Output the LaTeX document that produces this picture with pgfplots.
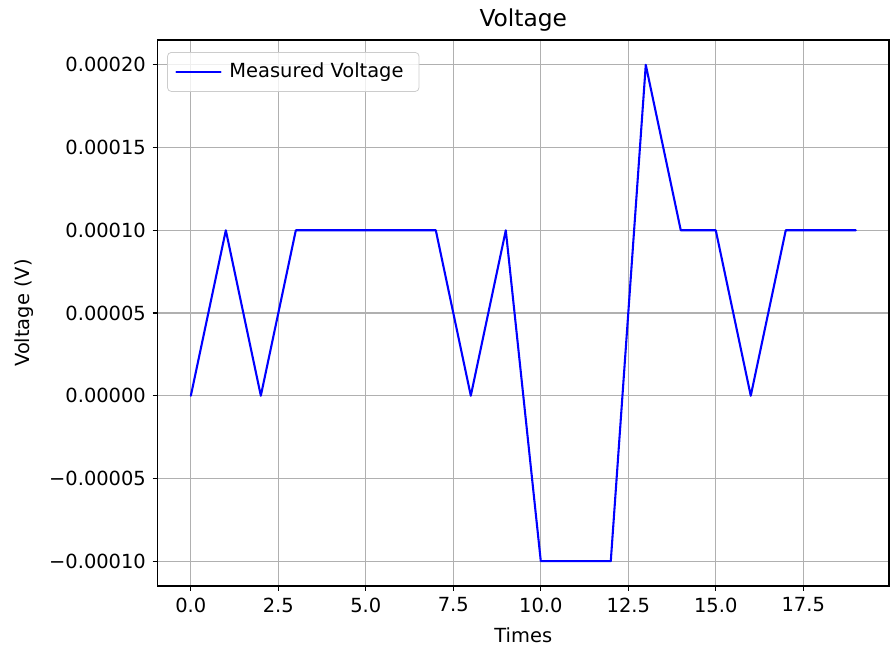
\documentclass[border=0pt]{standalone}
\usepackage{fontspec}
\setmainfont{DejaVu Sans}
\usepackage{pgfplots}
\pgfplotsset{compat=1.18}
\definecolor{gridgrey}{HTML}{B0B0B0}
\definecolor{legedge}{HTML}{CCCCCC}
\begin{document}
\begin{tikzpicture}[x=0.5143pt,y=0.5143pt]
\useasboundingbox (-157.6,-73) rectangle (737.4,586);
\begin{axis}[
  at={(0,0)}, anchor=south west,
  scale only axis,
  width=731.4*0.5143pt, height=546*0.5143pt,
  xmin=-0.95, xmax=19.95,
  ymin=-0.000115, ymax=0.000215,
  xtick={0,2.5,5,7.5,10,12.5,15,17.5},
  xticklabels={0.0,2.5,5.0,7.5,10.0,12.5,15.0,17.5},
  ytick={-0.0001,-0.00005,0,0.00005,0.0001,0.00015,0.0002},
  yticklabels={−0.00010,−0.00005,0.00000,0.00005,0.00010,0.00015,0.00020},
  scaled y ticks=false,
  grid=major,
  major grid style={gridgrey, line width=0.8pt*0.5143*1.389},
  axis line style={black, line width=0.8pt*0.5143*1.389},
  tick style={black, line width=0.8pt*0.5143*1.389},
  tick align=outside,
  major tick length=3.5pt*0.5143*1.389,
  xtick pos=bottom, ytick pos=left,
  ticklabel style={font=\fontsize{10}{12}\selectfont},
  xlabel={Times}, ylabel={Voltage (V)},
  label style={font=\fontsize{10}{12}\selectfont},
  xlabel style={yshift=-1pt},
  ylabel style={yshift=1pt},
  title={Voltage},
  title style={font=\fontsize{12}{14}\selectfont, yshift=-5pt},
  legend style={draw=legedge, rounded corners=2pt, fill=white, fill opacity=0.8, text opacity=1,
    font=\fontsize{10}{12}\selectfont, inner xsep=4pt, inner ysep=3.5pt, at={(0.013,0.978)}, anchor=north west},
  legend cell align=left,
  legend image code/.code={\draw[#1] (0cm,0cm) -- (0.8cm,0cm);},
  legend style={nodes={inner xsep=4pt}},
]
\addplot[blue, line width=1.5pt*0.5143*1.389, line join=round, line cap=round] coordinates {
(0,0) (1,0.0001) (2,0) (3,0.0001) (4,0.0001) (5,0.0001) (6,0.0001) (7,0.0001)
(8,0) (9,0.0001) (10,-0.0001) (11,-0.0001) (12,-0.0001) (13,0.0002) (14,0.0001)
(15,0.0001) (16,0) (17,0.0001) (18,0.0001) (19,0.0001)
};
\addlegendentry{Measured Voltage}
\end{axis}
\end{tikzpicture}
\end{document}
